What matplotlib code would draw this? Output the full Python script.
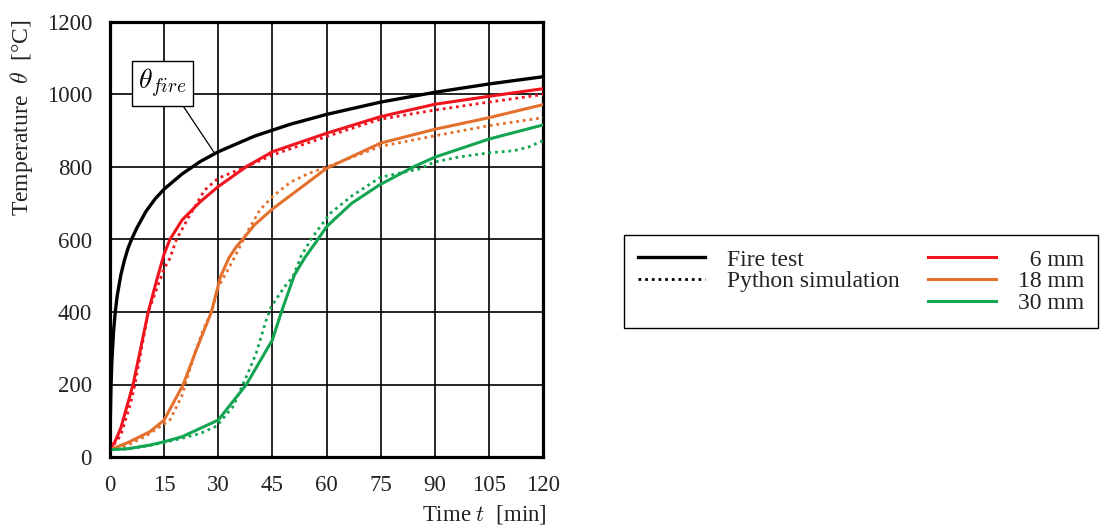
import numpy as np
import matplotlib
matplotlib.use('Agg')
import matplotlib.pyplot as plt
from matplotlib.lines import Line2D

plt.rcParams['font.family'] = ['Liberation Serif', 'DejaVu Serif']
plt.rcParams['mathtext.fontset'] = 'cm'

#%% data (time [min], temperature [degC])

fire_t = [0, 0.05, 0.1, 0.25, 0.5, 1, 1.5, 2, 3, 4, 5, 6, 7.5, 10, 12.5, 15, 20, 25, 30, 40, 50, 60, 75, 90, 105, 120]
fire_T = [20, 70, 108, 185, 261, 349, 404, 445, 502, 543, 576, 601, 633, 678, 712, 739, 781, 815, 842, 885, 918, 945, 979, 1006, 1029, 1049]

red6_t = [0, 1.5, 3, 6.4, 10.6, 13, 15, 16.6, 20, 25, 30, 37.8, 45, 60, 75, 90, 105, 120]
red6_T = [20, 45, 80, 200, 400, 490, 560, 600, 654, 704, 746, 801, 842, 893, 939, 973, 995, 1016]

red6_sim_t = [0, 3, 5.7, 6.9, 10.6, 15, 16.6, 18.4, 22, 26.2, 30, 37.8, 45, 60, 75, 90, 105, 120]
red6_sim_T = [20, 60, 148, 200, 400, 520, 548, 600, 665, 736, 769, 801, 833, 884, 932, 957, 979, 1000]

or18_t = [0, 5, 11.1, 15, 20.3, 23.9, 28.1, 30.6, 33, 35, 37, 40, 45, 60, 75, 90, 105, 120]
or18_T = [20, 40, 70, 102, 200, 295, 400, 497, 550, 580, 603, 640, 684, 796, 866, 904, 936, 972]

or18_sim_t = [0, 5, 10, 15, 16.6, 19.8, 23.5, 25.8, 28.1, 30.1, 34.1, 38, 41.5, 45, 50, 55, 60, 75, 90, 105, 120]
or18_sim_T = [20, 33, 58, 91, 102, 166, 286, 350, 400, 470, 543, 620, 681, 718, 758, 782, 800, 857, 886, 914, 936]

gr30_t = [0, 5, 11.1, 15, 20, 25, 30, 37.8, 45, 47.5, 51.1, 54, 57.6, 60, 62, 67, 74.6, 84, 90, 105, 120]
gr30_T = [20, 23, 33, 42, 56, 79, 102, 200, 323, 400, 502, 550, 600, 635, 654, 700, 750, 800, 827, 877, 916]

gr30_sim_t = [0, 5, 10, 15, 20, 25, 29.5, 34.1, 38.2, 40.5, 43.3, 44.7, 48.4, 50.7, 53, 56, 61, 67, 75, 85.5, 90, 97, 105, 112, 116, 120]
gr30_sim_T = [20, 22, 30, 40, 52, 65, 85, 139, 231, 286, 378, 415, 470, 497, 555, 605, 672, 720, 772, 794, 814, 828, 839, 845, 855, 873]

x_ticks = [0, 15, 30, 45, 60, 75, 90, 105, 120]
y_ticks = [0, 200, 400, 600, 800, 1000, 1200]

c_red = '#f0141e'
c_orange = '#e4702e'
c_green = '#14a552'
c_text = '#222222'
dots = (0, (1.0, 1.4))

#%% figure

fig = plt.figure(figsize=(11.09, 5.30), dpi=100)
ax = fig.add_axes([110/1109, 1-457/530, 433/1109, 435/530])

ax.plot(fire_t, fire_T, color='black', lw=2.4, zorder=5)
ax.plot(red6_t, red6_T, color=c_red, lw=2.2, zorder=4)
ax.plot(red6_sim_t, red6_sim_T, color=c_red, lw=2.0, ls=dots, zorder=4)
ax.plot(or18_t, or18_T, color=c_orange, lw=2.2, zorder=4)
ax.plot(or18_sim_t, or18_sim_T, color=c_orange, lw=2.0, ls=dots, zorder=4)
ax.plot(gr30_t, gr30_T, color=c_green, lw=2.2, zorder=4)
ax.plot(gr30_sim_t, gr30_sim_T, color=c_green, lw=2.0, ls=dots, zorder=4)

ax.set_xlim(0, 120)
ax.set_ylim(0, 1200)
ax.set_xticks(x_ticks)
ax.set_yticks(y_ticks)
ax.grid(True, color='black', lw=1.2)
ax.set_axisbelow(True)
ax.tick_params(length=0, labelsize=16.5, colors=c_text)
ax.tick_params(axis='x', pad=13)
ax.tick_params(axis='y', pad=13)
for s in ax.spines.values():
    s.set_linewidth(2.3)

ax.annotate(r'$\theta_{fire}$', xy=(28.8, 841), xytext=(14.5, 1030),
            ha='center', va='center', fontsize=20,
            bbox=dict(boxstyle='square,pad=0.22', fc='white', ec='black', lw=1.0),
            arrowprops=dict(arrowstyle='-', color='black', lw=0.9,
                            shrinkA=0, shrinkB=0, relpos=(0.85, 0.0)),
            zorder=6)

fig.text(22/1109, 1-118/530, r'Temperature  $\theta$  [°C]', rotation=90,
         ha='center', va='center', fontsize=17, color=c_text)
fig.text(547/1109, 1-515/530, r'Time $t$  [min]', ha='right', va='center',
         fontsize=16.5, color=c_text)

#%% legend

handles = [Line2D([], [], color='black', lw=2.4),
           Line2D([], [], color='black', lw=2.0, ls=dots),
           Line2D([], [], color='none'),
           Line2D([], [], color=c_red, lw=2.2),
           Line2D([], [], color=c_orange, lw=2.2),
           Line2D([], [], color=c_green, lw=2.2)]
labels = ['Fire test', 'Python simulation', '', '  6 mm', '18 mm', '30 mm']
leg = fig.legend(handles, labels, ncol=2, loc='center',
                 bbox_to_anchor=(861/1109, 1-281.5/530), fontsize=17,
                 handlelength=2.85, handletextpad=0.93, columnspacing=1.2,
                 labelspacing=0.0, borderpad=0.6, fancybox=False,
                 edgecolor='black', framealpha=1)
leg.get_frame().set_linewidth(1.0)
for t in leg.get_texts():
    t.set_color(c_text)

fig.savefig('out.png', dpi=100)
